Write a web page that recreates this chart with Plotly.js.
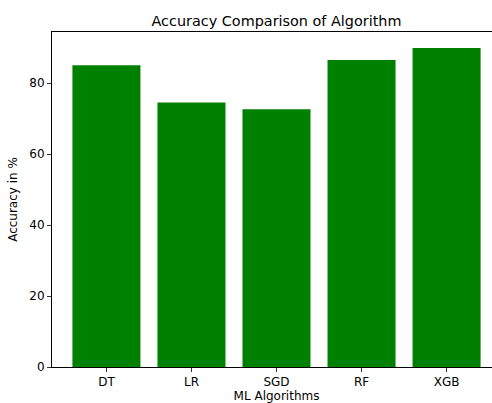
<!DOCTYPE html>
<html>
<head>
<meta charset="utf-8">
<script src="https://cdn.plot.ly/plotly-3.0.1.min.js"></script>
<style>html,body{margin:0;padding:0;background:#fff;overflow:hidden;}#chart{width:501px;height:403px;}</style>
</head>
<body>
<div id="chart"></div>
<script>
const algorithms = ["DT", "LR", "SGD", "RF", "XGB"];
const accuracy = [85.0, 74.5, 72.6, 86.5, 89.9];
const yTicks = [0, 20, 40, 60, 80];

const font = "DejaVu Sans, sans-serif";
const trace = {
  type: "bar",
  x: algorithms,
  y: accuracy,
  width: 0.8,
  marker: {color: "#008000", line: {width: 0}},
  hoverinfo: "x+y"
};
const layout = {
  width: 501, height: 403,
  margin: {l: 52, r: 0, t: 32, b: 36, pad: 0},
  paper_bgcolor: "#fff", plot_bgcolor: "#fff",
  font: {family: font, color: "#000", size: 12},
  title: {text: "Accuracy Comparison of Algorithm", font: {family: font, size: 14.4, color: "#000"},
          x: 0.5, xref: "paper", xanchor: "center", y: 1, yref: "paper", yanchor: "bottom", pad: {b: 6}},
  showlegend: false,
  xaxis: {
    type: "category", range: [-0.64, 4.64], showgrid: false, zeroline: false,
    showline: true, linecolor: "#000", linewidth: 1, mirror: true,
    ticks: "outside", ticklen: 4, tickwidth: 0.8, tickcolor: "#000",
    tickfont: {family: font, size: 12, color: "#000"},
    title: {text: "ML Algorithms", font: {family: font, size: 12, color: "#000"}, standoff: 3},
    automargin: false
  },
  yaxis: {
    range: [0, 94.4], showgrid: false, zeroline: false,
    showline: true, linecolor: "#000", linewidth: 1, mirror: false,
    tickvals: yTicks, ticktext: yTicks.map(String),
    ticks: "outside", ticklen: 4, tickwidth: 0.8, tickcolor: "#000",
    tickfont: {family: font, size: 12, color: "#000"},
    title: {text: "Accuracy in %", font: {family: font, size: 12, color: "#000"}, standoff: 9},
    automargin: false
  }
};
Plotly.newPlot("chart", [trace], layout, {displayModeBar: false, staticPlot: true});
</script>
</body>
</html>
